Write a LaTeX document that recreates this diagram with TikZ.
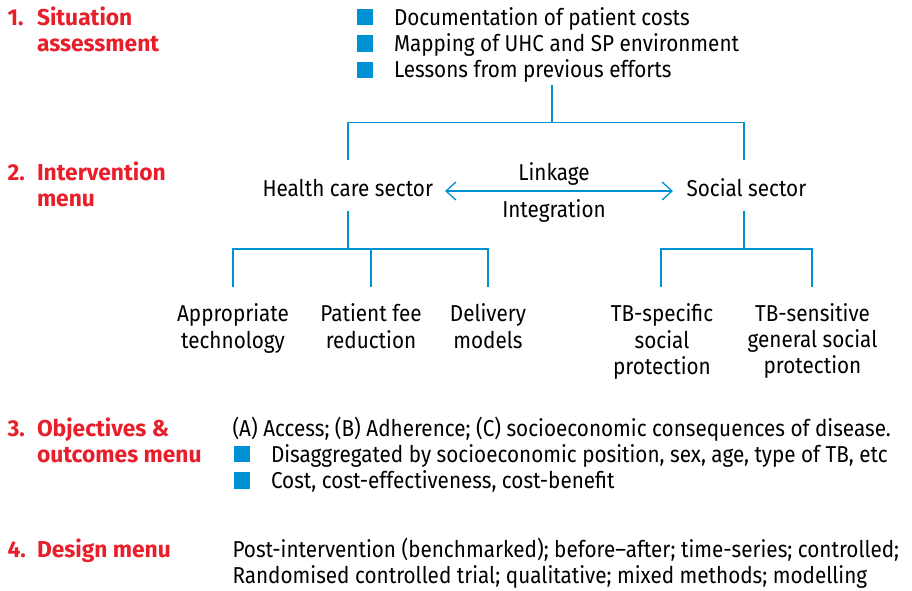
\documentclass[tikz,border=0pt]{standalone}
\usepackage{fontspec}
\setmainfont[FakeStretch=0.9,BoldFeatures={FakeStretch=0.99}]{Fira Sans}
\usetikzlibrary{arrows.meta}
\definecolor{tbred}{RGB}{232,30,42}
\definecolor{tbblue}{RGB}{0,145,210}
\begin{document}
\begin{tikzpicture}[x=1pt,y=-1pt,
  every node/.style={inner sep=0pt, outer sep=0pt, font=\fontsize{23}{26.3}\selectfont},
  head/.style={font=\fontsize{23}{26.3}\selectfont\bfseries, text=tbred, anchor=base west, align=left},
  txt/.style={anchor=base west, align=left},
  ctr/.style={anchor=base, align=center},
  sq/.style={fill=tbblue, minimum size=16.3pt, anchor=south west},
  link/.style={draw=tbblue, line width=1.3pt},
  barb/.style={link, {Straight Barb[length=10pt,width=18pt,line width=1.3pt]}-{Straight Barb[length=10pt,width=18pt,line width=1.3pt]}}]
\useasboundingbox (0,0) rectangle (912,590);

% ---- 1. Situation assessment
\node[head] (n1) at (7.5,25) {1.};
\node[head] (h1) at (37,51.3) {Situation\\assessment};
\node[sq] (s1) at (357,25) {};
\node[sq] (s2) at (357,51.6) {};
\node[sq] (s3) at (357,77.8) {};
\node[txt] (l1) at (394,25) {Documentation of patient costs};
\node[txt] (l2) at (394,51.6) {Mapping of UHC and SP environment};
\node[txt] (l3) at (394,77.8) {Lessons from previous efforts};

% ---- 2. Intervention menu
\node[head] (n2) at (7.5,180) {2.};
\node[head] (h2) at (37,206.3) {Intervention\\menu};
\node[txt] (hc) at (262.5,196) {Health care sector};
\node[txt] (ss) at (686.5,196) {Social sector};
\node[ctr] (lk) at (554,180) {Linkage};
\node[ctr] (ig) at (554,217) {Integration};
\coordinate (arL) at (445,191);
\coordinate (arR) at (673,191);
\draw[barb] (arL) -- (arR);

% tree top
\coordinate (t0) at (552,85);
\coordinate (j1) at (552,122.5);
\coordinate (hcT) at (348,160);
\coordinate (ssT) at (744,160);
\draw[link] (t0) -- (j1);
\draw[link] (hcT) |- (j1) -| (ssT);

% health care branch
\coordinate (hcB) at (348,210.5);
\coordinate (j2) at (348,249);
\coordinate (a1) at (233,287);
\coordinate (a2) at (371,287);
\coordinate (a3) at (488,287);
\draw[link] (hcB) -- (j2);
\draw[link] (a1) |- (j2) -| (a3);
\draw[link] (a2) -- (a2 |- j2);

% social branch
\coordinate (ssB) at (744,210.5);
\coordinate (j3) at (744,249);
\coordinate (b1) at (661,287);
\coordinate (b2) at (812,287);
\draw[link] (ssB) -- (j3);
\draw[link] (b1) |- (j3) -| (b2);

\node[ctr] (c1) at (233,348) {Appropriate\\technology};
\node[ctr] (c2) at (371,348) {Patient fee\\reduction};
\node[ctr] (c3) at (488,348) {Delivery\\models};
\node[ctr] (c4) at (662,374.5) {TB-specific\\social\\protection};
\node[ctr,font=\fontsize{23}{25.8}\selectfont] (c5) at (812.5,373.3) {TB-sensitive\\general social\\protection};

% ---- 3. Objectives & outcomes menu
\node[head] (n3) at (7.5,436) {3.};
\node[head] (h3) at (37,462.3) {Objectives \&\\outcomes menu};
\node[txt] (o1) at (232.5,436) {(A) Access; (B) Adherence; (C) socioeconomic consequences of disease.};
\node[sq] (s4) at (234,462.3) {};
\node[sq] (s5) at (234,488.5) {};
\node[txt] (o2) at (271,462.3) {Disaggregated by socioeconomic position, sex, age, type of TB, etc};
\node[txt] (o3) at (271,488.5) {Cost, cost-effectiveness, cost-benefit};

% ---- 4. Design menu
\node[head] (n4) at (7.5,557) {4.};
\node[head] (h4) at (37,557) {Design menu};
\node[txt] (d1) at (232.5,583.5) {Post-intervention (benchmarked); before–after; time-series; controlled;\\Randomised controlled trial; qualitative; mixed methods; modelling};
\end{tikzpicture}
\end{document}
